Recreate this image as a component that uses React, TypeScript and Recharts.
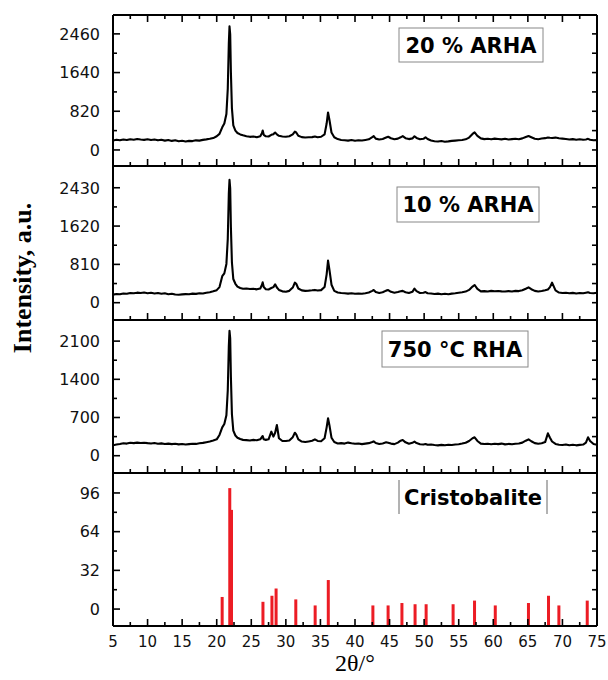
import React from 'react';
import { LineChart, ComposedChart, Line, Bar, XAxis, YAxis } from 'recharts';

// 2θ grid shared by the three measured patterns
const TWO_THETA = [
  5, 5.5, 6, 6.5, 7, 7.5, 8, 8.5, 9, 9.5, 10, 10.5, 11, 11.5, 12, 12.5, 13, 13.5, 14, 14.5,
  15, 15.5, 16, 16.5, 17, 17.5, 18, 18.5, 19, 19.5,
  20, 20.4, 20.8, 21.1, 21.4, 21.6, 21.75, 21.85, 21.95, 22.05, 22.2, 22.4, 22.7, 23.0, 23.4, 23.8,
  24.3, 24.8, 25.3, 25.8, 26.3, 26.55, 26.65, 26.8, 27.1, 27.5, 27.9, 28.2, 28.45, 28.7, 29.0,
  29.5, 30.0, 30.5, 31.0, 31.3, 31.5, 31.8, 32.3, 32.8, 33.3, 33.8, 34.2, 34.6, 35.1, 35.6,
  35.9, 36.1, 36.3, 36.6, 37.0, 37.5,
  38, 38.5, 39, 39.5, 40, 40.5, 41, 41.5, 42, 42.5, 42.7, 43, 43.5, 44, 44.5, 44.8, 45.2, 45.7,
  46.2, 46.6, 46.9, 47.3, 47.8, 48.3, 48.6, 48.9, 49.4, 49.9, 50.2, 50.5,
  51, 51.5, 52, 52.5, 53, 53.5, 54, 54.5, 55, 55.5, 56, 56.5, 57, 57.3, 57.7, 58.2, 58.7, 59.2,
  59.7, 60.2, 60.7, 61.2, 61.7, 62.2, 62.7, 63.2, 63.7, 64.2, 64.7, 65.1, 65.5, 66, 66.5, 67,
  67.5, 67.9, 68.2, 68.5, 69, 69.5, 70, 70.5, 71, 71.5, 72, 72.5, 73, 73.4, 73.7, 74, 74.5, 75,
];

const ARHA_20 = [
  200, 215, 205, 222, 212, 228, 218, 232, 222, 214, 226, 210, 220, 204, 216, 198, 210, 192, 204, 184,
  194, 178, 192, 188, 204, 198, 214, 224, 236, 252,
  290, 340, 480, 560, 760, 1300, 2250, 2620, 2450, 1650, 880, 520, 410, 360, 330, 310,
  290, 278, 285, 270, 292, 360, 410, 320, 290, 285, 320, 335, 368, 330, 300,
  285, 280, 290, 330, 388, 370, 300, 272, 265, 268, 272, 285, 270, 280, 330,
  560, 795, 640, 370, 270, 230,
  212, 205, 198, 210, 194, 206, 200, 212, 225, 270, 295, 240, 222, 232, 262, 280, 248, 226,
  240, 268, 292, 250, 230, 245, 290, 255, 228, 236, 270, 232,
  200, 185, 178, 190, 175, 182, 192, 198, 205, 212, 225, 262, 340, 372, 300, 245, 230, 238,
  225, 240, 232, 225, 236, 222, 230, 238, 228, 245, 275, 297, 270, 238, 228, 242,
  250, 262, 258, 255, 262, 248, 240, 232, 222, 230, 218, 228, 215, 222, 235, 215, 205, 208,
];

const ARHA_10 = [
  170, 185, 178, 195, 188, 205, 198, 212, 205, 215, 200, 210, 195, 205, 188, 198, 180, 190, 172, 168,
  175, 182, 178, 192, 186, 200, 195, 210, 222, 240,
  265, 330, 560, 620, 820, 1350, 2300, 2600, 2420, 1600, 850, 500, 400, 340, 310, 295,
  300, 290, 295, 282, 300, 380, 430, 330, 285, 280, 310, 330, 389, 320, 270,
  240, 230, 250, 320, 423, 400, 300, 260, 250, 255, 262, 270, 258, 265, 330,
  600, 889, 700, 380, 250, 215,
  205, 198, 192, 200, 188, 195, 190, 200, 215, 250, 268, 225, 205, 220, 255, 268, 230, 210,
  225, 240, 250, 222, 205, 230, 296, 245, 205, 210, 225, 200,
  195, 185, 192, 180, 188, 178, 192, 200, 210, 220, 235, 270, 340, 374, 290, 240, 245, 238,
  250, 242, 248, 240, 236, 245, 238, 250, 245, 262, 295, 325, 285, 250, 238, 248,
  265, 280, 330, 423, 260, 215, 205, 210, 200, 208, 196, 205, 198, 210, 220, 205, 200, 210,
];

const RHA_750 = [
  190, 205, 215, 228, 222, 236, 230, 240, 232, 238, 230, 225, 232, 220, 226, 215, 222, 212, 218, 208,
  214, 205, 212, 220, 216, 228, 235, 248, 262, 280,
  300, 380, 520, 580, 740, 1200, 2000, 2290, 2150, 1450, 760, 460, 370, 330, 305, 290,
  285, 280, 290, 282, 300, 345, 361, 300, 290, 300, 440, 350, 420, 562, 320,
  270, 270, 280, 340, 421, 390, 300, 260, 250, 262, 275, 300, 270, 265, 320,
  520, 685, 560, 330, 250, 225,
  230, 222, 240, 228, 218, 225, 212, 222, 230, 250, 262, 232, 215, 225, 245, 238, 222, 212,
  240, 275, 288, 245, 218, 236, 257, 232, 210, 205, 215, 200,
  205, 196, 190, 198, 192, 202, 196, 205, 210, 222, 238, 270, 320, 337, 270, 222, 214, 220,
  210, 218, 212, 222, 208, 216, 210, 220, 225, 240, 275, 300, 265, 230, 220, 228,
  250, 410, 330, 260, 215, 200, 196, 205, 192, 200, 190, 198, 205, 240, 337, 270, 215, 200,
];

// cristobalite reference card
const STICK_2THETA = [20.8, 21.9, 22.15, 26.7, 28.0, 28.6, 31.45, 34.25, 36.15, 42.6, 44.8, 46.8, 48.7, 50.3, 54.2, 57.3, 60.3, 65.1, 68.0, 69.5, 73.6];
const STICK_REL = [10, 100, 82, 6, 11, 17, 8, 3, 24, 3, 3, 5, 4, 4, 4, 7, 3, 5, 11, 3, 7];

const X_MAJOR = [5, 10, 15, 20, 25, 30, 35, 40, 45, 50, 55, 60, 65, 70, 75];
const X_MINOR = [7.5, 12.5, 17.5, 22.5, 27.5, 32.5, 37.5, 42.5, 47.5, 52.5, 57.5, 62.5, 67.5, 72.5];

const Y20_MAJOR = [0, 820, 1640, 2460];
const Y20_MINOR = [410, 1230, 2050];
const Y10_MAJOR = [0, 810, 1620, 2430];
const Y10_MINOR = [405, 1215, 2025];
const Y750_MAJOR = [0, 700, 1400, 2100];
const Y750_MINOR = [350, 1050, 1750];
const YC_MAJOR = [0, 32, 64, 96];
const YC_MINOR = [16, 48, 80];

const X_DOMAIN = [5, 75];
const X_TICKS = [...X_MAJOR, ...X_MINOR].sort((a, b) => a - b);
const AXIS = { stroke: '#000', strokeWidth: 2 };
const TICK_FONT = 'DejaVu Sans';

const rows = TWO_THETA.map((x, i) => ({ x, a20: ARHA_20[i], a10: ARHA_10[i], r750: RHA_750[i] }));
const sticks = STICK_2THETA.map((x, i) => ({ x, rel: STICK_REL[i] }));

const LeftTick = (props: any) => {
  const { x, y, payload, majors } = props;
  const major = majors.includes(payload.value);
  return (
    <g>
      <line x1={x} x2={x + (major ? 7 : 4)} y1={y} y2={y} stroke="#000" strokeWidth={1.6} />
      {major && (
        <text x={x - 13} y={y} dy="0.36em" textAnchor="end" fontFamily={TICK_FONT} fontSize={16} fill="#111">
          {payload.value}
        </text>
      )}
    </g>
  );
};

const RightTick = (props: any) => {
  const { x, y } = props;
  return <line x1={x} x2={x - 5} y1={y} y2={y} stroke="#000" strokeWidth={1.6} />;
};

const BottomTick = (props: any) => {
  const { x, y, payload, labels } = props;
  const major = X_MAJOR.includes(payload.value);
  return (
    <g>
      <line x1={x} x2={x} y1={y} y2={y - (major ? 7 : 4)} stroke="#000" strokeWidth={1.6} />
      {labels && major && (
        <text x={x} y={y + 16} dy="0.36em" textAnchor="middle" fontFamily={TICK_FONT} fontSize={15} fill="#111">
          {payload.value}
        </text>
      )}
    </g>
  );
};

const TopTick = (props: any) => {
  const { x, y, payload } = props;
  const major = X_MAJOR.includes(payload.value);
  return <line x1={x} x2={x} y1={y} y2={y + (major ? 7 : 4)} stroke="#000" strokeWidth={1.6} />;
};

// keep every stick 3px wide whatever band width recharts works out
const Stick = (props: any) => {
  const { x, y, width, height, fill } = props;
  return <rect x={x + width / 2 - 1.5} y={y} width={3} height={height} fill={fill} />;
};

const PANELS = [
  { key: 'a20', top: 5, plotH: 151, domain: [-340, 2860], majors: Y20_MAJOR, minors: Y20_MINOR, showTop: true },
  { key: 'a10', top: 156, plotH: 154, domain: [-366, 2890], majors: Y10_MAJOR, minors: Y10_MINOR, showTop: false },
  { key: 'r750', top: 310, plotH: 153, domain: [-317, 2487], majors: Y750_MAJOR, minors: Y750_MINOR, showTop: false },
];

const yAxes = (domain: number[], majors: number[], minors: number[]) => {
  const ticks = [...majors, ...minors].sort((a, b) => a - b);
  return [
    <YAxis
      key="l"
      type="number"
      domain={domain}
      ticks={ticks}
      interval={0}
      width={113}
      tickSize={0}
      tickMargin={0}
      axisLine={AXIS}
      tick={(p: any) => <LeftTick {...p} majors={majors} />}
      allowDataOverflow
    />,
    <YAxis
      key="r"
      yAxisId="r"
      orientation="right"
      type="number"
      domain={domain}
      ticks={ticks}
      interval={0}
      width={1}
      tickSize={0}
      tickMargin={0}
      axisLine={AXIS}
      tick={(p: any) => <RightTick {...p} />}
      allowDataOverflow
    />,
  ];
};

const XrdPanel = ({ cfg }: { cfg: any }) => (
  <div style={{ position: 'absolute', left: 0, top: cfg.top }}>
    <LineChart
      width={608}
      height={cfg.plotH + 20}
      data={rows}
      margin={{ top: cfg.showTop ? 9 : 10, right: 10, bottom: 0, left: 0 }}
    >
      {cfg.showTop && (
        <XAxis
          xAxisId="top"
          orientation="top"
          type="number"
          dataKey="x"
          domain={X_DOMAIN}
          ticks={X_TICKS}
          interval={0}
          height={1}
          tickSize={0}
          tickMargin={0}
          axisLine={AXIS}
          tick={(p: any) => <TopTick {...p} />}
          allowDataOverflow
        />
      )}
      <XAxis
        type="number"
        dataKey="x"
        domain={X_DOMAIN}
        ticks={X_TICKS}
        interval={0}
        height={10}
        tickSize={0}
        tickMargin={0}
        axisLine={AXIS}
        tick={(p: any) => <BottomTick {...p} labels={false} />}
        allowDataOverflow
      />
      {yAxes(cfg.domain, cfg.majors, cfg.minors)}
      <Line
        type="linear"
        dataKey={cfg.key}
        stroke="#000"
        strokeWidth={2.1}
        strokeLinejoin="round"
        dot={false}
        isAnimationActive={false}
      />
    </LineChart>
  </div>
);

const CRIS_DOMAIN = [-14, 112.5];

const CristobalitePanel = () => (
  <div style={{ position: 'absolute', left: 0, top: 463 }}>
    <ComposedChart width={608} height={217} data={sticks} margin={{ top: 10, right: 10, bottom: 0, left: 0 }}>
      <XAxis
        type="number"
        dataKey="x"
        domain={X_DOMAIN}
        ticks={X_TICKS}
        interval={0}
        height={54}
        tickSize={0}
        tickMargin={0}
        axisLine={AXIS}
        tick={(p: any) => <BottomTick {...p} labels />}
        allowDataOverflow
      />
      {yAxes(CRIS_DOMAIN, YC_MAJOR, YC_MINOR)}
      <Bar
        dataKey={(d: any) => [CRIS_DOMAIN[0], d.rel]}
        fill="#ec1c24"
        barSize={3}
        shape={(p: any) => <Stick {...p} />}
        isAnimationActive={false}
      />
    </ComposedChart>
  </div>
);

const LabelBox = ({ x, y, w, h, text }: any) => (
  <g>
    <rect x={x} y={y} width={w} height={h} fill="#fff" stroke="#888" strokeWidth={1} />
    <text x={x + w / 2} y={y + h / 2} dy="0.36em" textAnchor="middle" fontFamily="DejaVu Sans" fontWeight="bold" fontSize={21} fill="#000">
      {text}
    </text>
  </g>
);

export default function App() {
  return (
    <div style={{ position: 'absolute', left: 0, top: 0, width: 608, height: 680, background: '#fff', overflow: 'hidden' }}>
      {PANELS.map((p) => (
        <XrdPanel key={p.key} cfg={p} />
      ))}
      <CristobalitePanel />
      <svg width={608} height={680} style={{ position: 'absolute', left: 0, top: 0, pointerEvents: 'none' }}>
        <LabelBox x={399} y={28} w={144} h={34} text="20 % ARHA" />
        <LabelBox x={397} y={187} w={142} h={35} text="10 % ARHA" />
        <LabelBox x={382} y={331} w={146} h={36} text="750 °C RHA" />
        <line x1={399} x2={399} y1={480} y2={514} stroke="#666" strokeWidth={1} />
        <line x1={547} x2={547} y1={480} y2={514} stroke="#666" strokeWidth={1} />
        <text x={473} y={497} dy="0.36em" textAnchor="middle" fontFamily="DejaVu Sans" fontWeight="bold" fontSize={21} fill="#000">
          Cristobalite
        </text>
        <text
          x={31}
          y={278}
          transform="rotate(-90, 31, 278)"
          textAnchor="middle"
          fontFamily="Liberation Serif"
          fontWeight="bold"
          fontSize={26}
          fill="#000"
        >
          Intensity, a.u.
        </text>
        <text x={355} y={671} textAnchor="middle" fontFamily="Liberation Serif" fontSize={24} fill="#000">
          2θ/°
        </text>
      </svg>
    </div>
  );
}
